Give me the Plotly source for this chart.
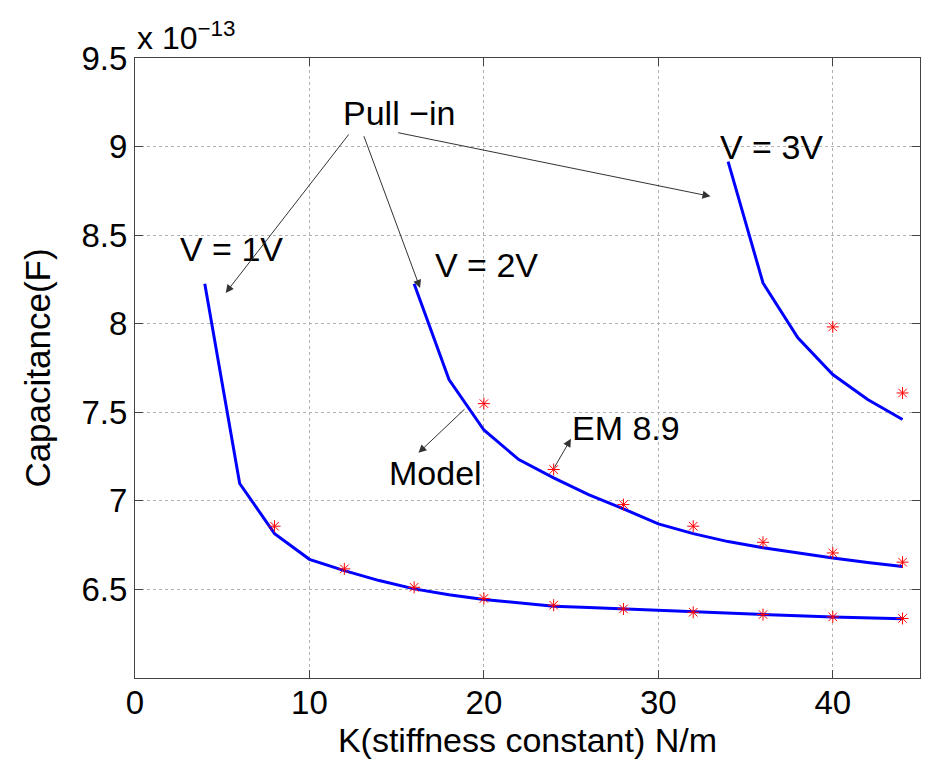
import plotly.graph_objects as go

# Stiffness K (N/m) and capacitance (units of 1e-13 F) for the model curves
k_v1 = [4, 6, 8, 10, 12, 14, 16, 18, 20, 22, 24, 26, 28, 30, 32, 34, 36, 38, 40, 42, 44]
c_v1 = [8.225, 7.098, 6.815, 6.670, 6.606, 6.550, 6.503, 6.470, 6.443, 6.422, 6.405,
        6.398, 6.390, 6.383, 6.372, 6.365, 6.357, 6.351, 6.345, 6.340, 6.334]

k_v2 = [16, 18, 20, 22, 24, 26, 28, 30, 32, 34, 36, 38, 40, 42, 44]
c_v2 = [8.225, 7.685, 7.400, 7.233, 7.130, 7.035, 6.955, 6.870, 6.815, 6.770,
        6.735, 6.705, 6.678, 6.652, 6.630]

k_v3 = [34, 36, 38, 40, 42, 44]
c_v3 = [8.915, 8.230, 7.920, 7.713, 7.572, 7.459]

# EM 8.9 simulation points
k_em1 = [8, 12, 16, 20, 24, 28, 32, 36, 40, 44]
c_em1 = [6.857, 6.616, 6.512, 6.449, 6.411, 6.390, 6.371, 6.358, 6.345, 6.336]

k_em2 = [20, 24, 28, 32, 36, 40, 44]
c_em2 = [7.549, 7.177, 6.979, 6.857, 6.766, 6.706, 6.654]

k_em3 = [40, 44]
c_em3 = [7.982, 7.609]

x_ticks = [0, 10, 20, 30, 40]
y_ticks = [6.5, 7, 7.5, 8, 8.5, 9, 9.5]
y_ticktext = ["6.5", "7", "7.5", "8", "8.5", "9", "9.5"]

FONT = "Liberation Sans, Arial, Helvetica, sans-serif"
BLUE = "#0000ff"
RED = "#ff0000"

fig = go.Figure()

for k, c in [(k_v1, c_v1), (k_v2, c_v2), (k_v3, c_v3)]:
    fig.add_trace(go.Scatter(x=k, y=c, mode="lines",
                             line=dict(color=BLUE, width=3), showlegend=False))

for k, c in [(k_em1, c_em1), (k_em2, c_em2), (k_em3, c_em3)]:
    fig.add_trace(go.Scatter(x=k, y=c, mode="markers",
                             marker=dict(symbol="asterisk-open", size=10, color=RED,
                                         line=dict(color=RED, width=1)),
                             showlegend=False))

# Text labels
labels = [
    ("Pull −in", 15.14, 9.19),
    ("V = 1V", 5.55, 8.42),
    ("V = 2V", 20.16, 8.334),
    ("V = 3V", 36.46, 9.0),
    ("Model", 17.2, 7.16),
    ("EM 8.9", 28.16, 7.412),
]
for txt, x, y in labels:
    fig.add_annotation(x=x, y=y, text=txt, showarrow=False,
                       font=dict(family=FONT, size=34, color="black"),
                       xanchor="center", yanchor="middle")

# Arrows: (head_x, head_y, tail_x, tail_y)
arrows = [
    (5.2, 8.174, 12.32, 9.077),
    (16.34, 8.202, 13.09, 9.067),
    (32.99, 8.719, 15.0, 9.08),
    (16.25, 7.271, 18.97, 7.525),
    (24.99, 7.35, 23.99, 7.18),
]
for hx, hy, tx, ty in arrows:
    fig.add_annotation(x=hx, y=hy, ax=tx, ay=ty, xref="x", yref="y",
                       axref="x", ayref="y", text="", showarrow=True,
                       arrowhead=2, arrowsize=1.6, arrowwidth=1,
                       arrowcolor="#333333")

# Exponent label above the y axis
fig.add_annotation(xref="paper", yref="paper", x=0, y=1.0, xanchor="left",
                   yanchor="bottom", text="x 10<sup>−13</sup>", showarrow=False,
                   font=dict(family=FONT, size=32, color="black"))

axis_common = dict(
    showline=True, linecolor="#444444", linewidth=1, mirror="ticks",
    ticks="inside", ticklen=8, tickcolor="#444444",
    showgrid=True, gridcolor="#b0b0b0", griddash="dot", gridwidth=1,
    zeroline=False,
    tickfont=dict(family=FONT, size=33, color="black"),
)

fig.update_xaxes(range=[0, 45], tickvals=x_ticks, ticklabelstandoff=-5,
                 title=dict(text="K(stiffness constant) N/m",
                            font=dict(family=FONT, size=34, color="black"),
                            standoff=0),
                 **axis_common)
fig.update_yaxes(range=[6.0, 9.5], tickvals=y_ticks, ticktext=y_ticktext,
                 title=dict(text="Capacitance(F)",
                            font=dict(family=FONT, size=35, color="black"),
                            standoff=20),
                 **axis_common)

fig.update_layout(
    width=925, height=760,
    margin=dict(l=135, r=5, t=58, b=82, autoexpand=False),
    paper_bgcolor="white", plot_bgcolor="white",
    font=dict(family=FONT, color="black"),
)

fig.write_html("out.html", config={"displayModeBar": False})
